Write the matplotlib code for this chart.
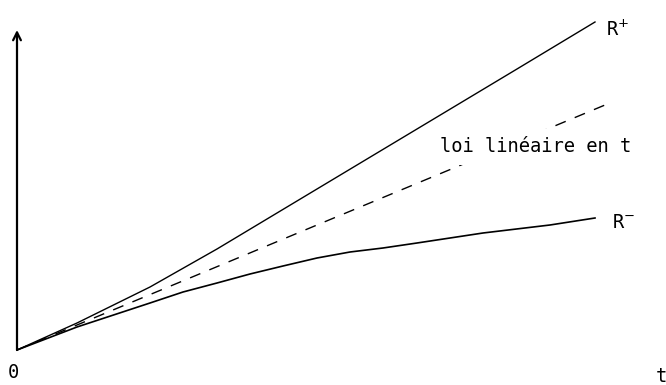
"""Sketch: R+ / R- against the linear law in t."""
import numpy as np
import matplotlib
matplotlib.use("Agg")
import matplotlib.pyplot as plt

# values (arbitrary units, origin at 0)
t_plus = [0, 60, 133, 200, 300, 400, 500, 578]
r_plus = [0, 27, 63, 101, 161, 221, 281, 328]

t_lin = [0, 588]
r_lin = [0, 245]

t_minus = [0, 60, 133, 166, 200, 233, 266, 300, 333, 366, 400, 466, 533, 578]
r_minus = [0, 23, 47, 58, 67, 76, 84, 92, 98, 102, 107, 117, 125, 132]

fig = plt.figure(figsize=(6.66, 3.85), dpi=100)
ax = fig.add_axes([0, 0, 1, 1])
ax.set_xlim(-17, 649)
ax.set_ylim(-35, 350)
ax.axis('off')

# axes with arrows
ax.annotate('', xy=(0, 320), xytext=(0, 0),
            arrowprops=dict(arrowstyle='->', lw=1.6, color='black',
                            mutation_scale=14, shrinkA=0, shrinkB=0))
ax.annotate('', xy=(653, 0), xytext=(0, 0),
            arrowprops=dict(arrowstyle='->', lw=1.6, color='black',
                            mutation_scale=14, shrinkA=0, shrinkB=0))

ax.plot(t_plus, r_plus, color='black', lw=1.0)
ax.plot(t_lin, r_lin, color='black', lw=1.0, linestyle=(0, (8, 7)))
ax.plot(t_minus, r_minus, color='black', lw=1.2)

fnt = dict(family='DejaVu Sans Mono', fontsize=13.5, color='black')
ax.text(589, 320, 'R$^{+}$', ha='left', va='center', **fnt)
ax.text(595, 128, 'R$^{-}$', ha='left', va='center', **fnt)
ax.text(423, 203, 'loi linéaire en t', ha='left', va='center',
        bbox=dict(facecolor='white', edgecolor='none', pad=6), zorder=5, **fnt)
ax.text(-4, -22, '0', ha='center', va='center', **fnt)
ax.text(644, -26, 't', ha='center', va='center', **fnt)

fig.savefig('out.png', dpi=100, facecolor='w')
